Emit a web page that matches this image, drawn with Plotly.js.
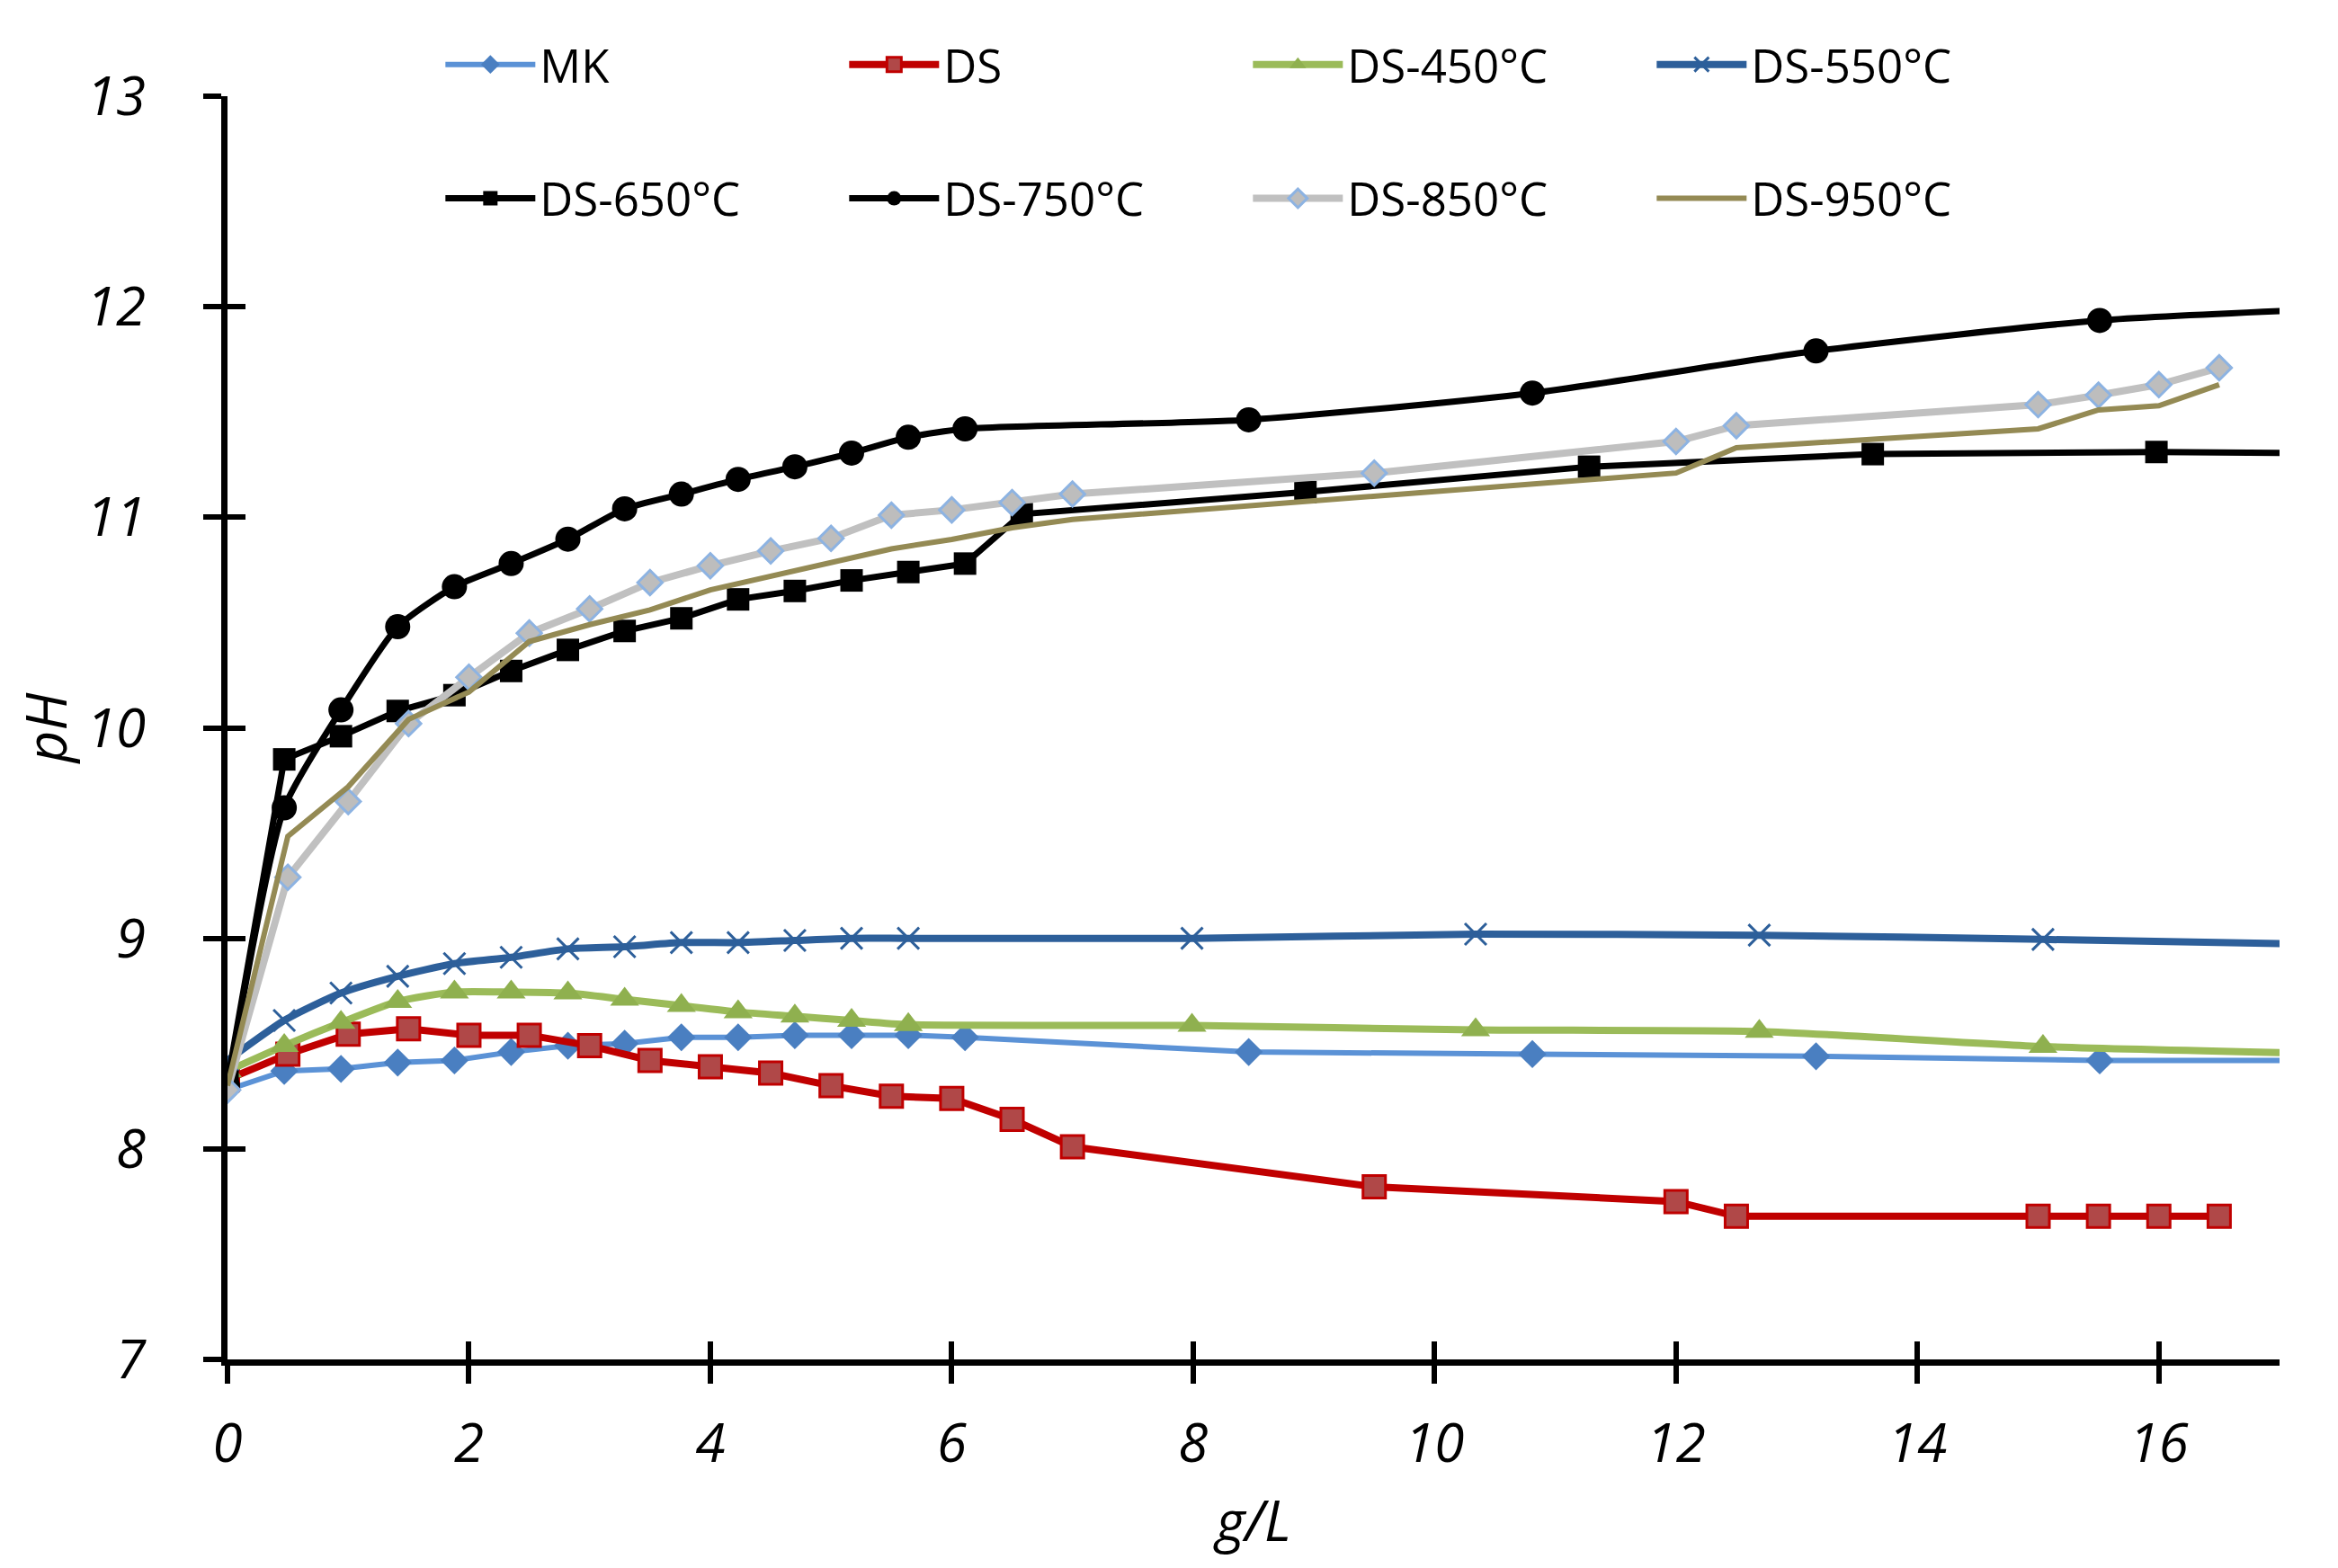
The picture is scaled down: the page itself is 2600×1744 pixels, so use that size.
<!DOCTYPE html>
<html>
<head>
<meta charset="utf-8">
<script src="https://cdn.plot.ly/plotly-3.0.1.min.js"></script>
<style>
	html, body {margin: 0; padding: 0; background: #fff;}
	#chart {width: 2600px; height: 1744px;}
</style>
</head>
<body>
<div id="chart"></div>
<script>
// pH against dosage (g/L)
const series_names = ['MK', 'DS', 'DS-450°C', 'DS-550°C', 'DS-650°C', 'DS-750°C', 'DS-850°C', 'DS-950°C'];

const mk_x = [0, 0.47, 0.94, 1.41, 1.88, 2.35, 2.82, 3.29, 3.76, 4.23, 4.7, 5.17, 5.64, 6.11, 8.46, 10.81, 13.16, 15.51, 17.86];
const mk_ph = [8.28, 8.37, 8.38, 8.41, 8.42, 8.46, 8.49, 8.50, 8.53, 8.53, 8.54, 8.54, 8.54, 8.53, 8.46, 8.45, 8.44, 8.42, 8.42];

const ds_x = [0, 0.5, 1, 1.5, 2, 2.5, 3, 3.5, 4, 4.5, 5, 5.5, 6, 6.5, 7, 9.5, 12, 12.5, 15, 15.5, 16, 16.5];
const ds_ph = [8.33, 8.45, 8.545, 8.57, 8.54, 8.54, 8.49, 8.42, 8.39, 8.36, 8.30, 8.25, 8.24, 8.14, 8.01, 7.82, 7.75, 7.68, 7.68, 7.68, 7.68, 7.68];

const ds450_x = [0, 0.47, 0.94, 1.41, 1.88, 2.35, 2.82, 3.29, 3.76, 4.23, 4.7, 5.17, 5.64, 7.99, 10.34, 12.69, 15.04, 17.39];
const ds450_ph = [8.37, 8.49, 8.60, 8.70, 8.745, 8.745, 8.74, 8.71, 8.68, 8.65, 8.63, 8.61, 8.59, 8.586, 8.565, 8.558, 8.486, 8.453];

const ds550_x = [0, 0.47, 0.94, 1.41, 1.88, 2.35, 2.82, 3.29, 3.76, 4.23, 4.7, 5.17, 5.64, 7.99, 10.34, 12.69, 15.04, 17.39];
const ds550_ph = [8.42, 8.61, 8.74, 8.82, 8.88, 8.91, 8.95, 8.96, 8.98, 8.98, 8.99, 9.0, 9.0, 9.0, 9.02, 9.015, 8.995, 8.971];

const ds650_x = [0, 0.47, 0.94, 1.41, 1.88, 2.35, 2.82, 3.29, 3.76, 4.23, 4.7, 5.17, 5.64, 6.11, 6.58, 8.93, 11.28, 13.63, 15.98, 18.33];
const ds650_ph = [8.32, 9.85, 9.96, 10.08, 10.155, 10.27, 10.37, 10.46, 10.52, 10.61, 10.65, 10.70, 10.74, 10.78, 11.015, 11.12, 11.24, 11.30, 11.31, 11.30];

const ds750_x = [0, 0.47, 0.94, 1.41, 1.88, 2.35, 2.82, 3.29, 3.76, 4.23, 4.7, 5.17, 5.64, 6.11, 8.46, 10.81, 13.16, 15.51, 17.86];
const ds750_ph = [8.3, 9.62, 10.085, 10.48, 10.67, 10.78, 10.896, 11.04, 11.11, 11.18, 11.24, 11.305, 11.38, 11.42, 11.463, 11.59, 11.79, 11.935, 12.0];

const ds850_x = [0, 0.5, 1, 1.5, 2, 2.5, 3, 3.5, 4, 4.5, 5, 5.5, 6, 6.5, 7, 9.5, 12, 12.5, 15, 15.5, 16, 16.5];
const ds850_ph = [8.28, 9.29, 9.65, 10.02, 10.24, 10.45, 10.565, 10.69, 10.77, 10.84, 10.90, 11.01, 11.035, 11.07, 11.11, 11.21, 11.36, 11.435, 11.535, 11.58, 11.63, 11.71];

const ds950_x = [0, 0.5, 1, 1.5, 2, 2.5, 3, 3.5, 4, 4.5, 5, 5.5, 6, 6.5, 7, 12, 12.5, 15, 15.5, 16, 16.5];
const ds950_ph = [8.3, 9.485, 9.72, 10.04, 10.17, 10.41, 10.49, 10.56, 10.655, 10.72, 10.79, 10.85, 10.895, 10.95, 10.99, 11.21, 11.33, 11.42, 11.51, 11.53, 11.63];

const x_ticks = [0, 2, 4, 6, 8, 10, 12, 14, 16];
const y_ticks = [7, 8, 9, 10, 11, 12, 13];

const font_family = '"Open Sans", "DejaVu Sans", sans-serif';

function make_trace(name, x, y, line, marker, legend, shape) {
	const trace = {
		name: name,
		x: x,
		y: y,
		type: 'scatter',
		mode: marker ? 'lines+markers' : 'lines',
		line: Object.assign({shape: shape || 'linear', smoothing: 0.6}, line),
		legend: legend,
		hoverinfo: 'skip'
	};
	if (marker) trace.marker = marker;
	return trace;
}

const chart_data = [
	make_trace(series_names[0], mk_x, mk_ph, {color: '#5b92d6', width: 6},
		{symbol: 'diamond', size: 24, color: '#4a7fc1'}, 'legend'),
	make_trace(series_names[1], ds_x, ds_ph, {color: '#c00000', width: 8},
		{symbol: 'square', size: 25, color: '#b04848', line: {color: '#c00000', width: 3}}, 'legend'),
	make_trace(series_names[2], ds450_x, ds450_ph, {color: '#9bbb59', width: 8},
		{symbol: 'triangle-up', size: 28, color: '#8fb04f'}, 'legend', 'spline'),
	make_trace(series_names[3], ds550_x, ds550_ph, {color: '#2d5f9a', width: 8},
		{symbol: 'x-thin', size: 24, line: {color: '#2d5f9a', width: 3}}, 'legend', 'spline'),
	make_trace(series_names[4], ds650_x, ds650_ph, {color: '#000000', width: 7},
		{symbol: 'square', size: 25, color: '#000000'}, 'legend2'),
	make_trace(series_names[5], ds750_x, ds750_ph, {color: '#000000', width: 7},
		{symbol: 'circle', size: 28, color: '#000000'}, 'legend2', 'spline'),
	make_trace(series_names[6], ds850_x, ds850_ph, {color: '#c0c0c0', width: 8},
		{symbol: 'diamond', size: 21, color: '#bdbdbd', line: {color: '#8db3e2', width: 3}}, 'legend2'),
	make_trace(series_names[7], ds950_x, ds950_ph, {color: '#948a54', width: 6}, null, 'legend2'),
	// empty traces so the overlay axes (inner half of the crossing ticks) get drawn
	{x: [], y: [], type: 'scatter', xaxis: 'x2', yaxis: 'y', showlegend: false, hoverinfo: 'skip'},
	{x: [], y: [], type: 'scatter', xaxis: 'x', yaxis: 'y2', showlegend: false, hoverinfo: 'skip'}
];

const tick_font = {family: font_family, size: 60, color: '#000', style: 'italic'};
const title_font = {family: font_family, size: 62, color: '#000', style: 'italic'};
const legend_font = {family: font_family, size: 51, color: '#000'};

function legend_row(y) {
	return {
		orientation: 'h',
		x: 0.104,
		y: y,
		xanchor: 'left',
		yanchor: 'middle',
		itemwidth: 100,
		entrywidth: 334,
		entrywidthmode: 'pixels',
		bgcolor: 'rgba(0,0,0,0)',
		font: legend_font,
		traceorder: 'normal'
	};
}

const chart_layout = {
	width: 2600,
	height: 1744,
	paper_bgcolor: '#fff',
	plot_bgcolor: '#fff',
	margin: {l: 253, r: 65, t: 107, b: 232, autoexpand: false},
	xaxis: {
		range: [0, 17],
		tickvals: x_ticks,
		ticks: 'outside',
		ticklen: 20,
		tickwidth: 6,
		tickcolor: '#000',
		showline: true,
		linewidth: 7,
		linecolor: '#000',
		showgrid: false,
		zeroline: false,
		tickfont: tick_font,
		ticklabelstandoff: 15,
		title: {text: 'g/L', font: title_font, standoff: 30}
	},
	xaxis2: {
		overlaying: 'x',
		anchor: 'y',
		side: 'bottom',
		range: [0, 17],
		tickvals: x_ticks,
		ticks: 'inside',
		ticklen: 20,
		tickwidth: 6,
		tickcolor: '#000',
		showticklabels: false,
		showline: false,
		showgrid: false,
		zeroline: false
	},
	yaxis: {
		range: [7, 13],
		tickvals: y_ticks,
		ticks: 'outside',
		ticklen: 20,
		tickwidth: 6,
		tickcolor: '#000',
		showline: true,
		linewidth: 7,
		linecolor: '#000',
		showgrid: false,
		zeroline: false,
		tickfont: tick_font,
		ticklabelstandoff: 52,
		title: {text: 'pH', font: title_font, standoff: 4}
	},
	yaxis2: {
		overlaying: 'y',
		anchor: 'x',
		side: 'left',
		range: [7, 13],
		tickvals: y_ticks,
		ticks: 'inside',
		ticklen: 20,
		tickwidth: 6,
		tickcolor: '#000',
		showticklabels: false,
		showline: false,
		showgrid: false,
		zeroline: false
	},
	showlegend: true,
	legend: legend_row(1.0249),
	legend2: legend_row(0.9189)
};

Plotly.newPlot('chart', chart_data, chart_layout, {displayModeBar: false, staticPlot: true});
</script>
</body>
</html>
